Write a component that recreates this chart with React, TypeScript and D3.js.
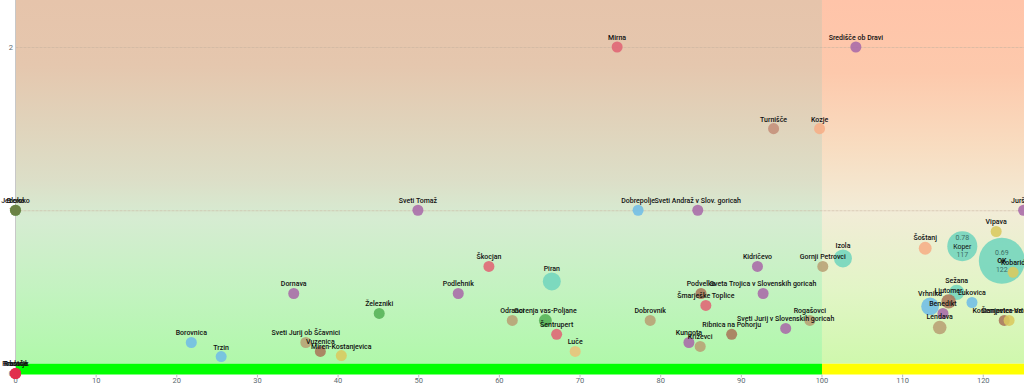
import React, { useEffect, useRef } from 'react';
import * as d3 from 'd3';

// municipalities
const names = [
  'Mirna', 'Središče ob Dravi', 'Turnišče', 'Kozje', 'Jezersko', 'Bloke', 'Sveti Tomaž', 'Dobrepolje',
  'Sveti Andraž v Slov. goricah', 'Juršinci', 'Škocjan', 'Piran', 'Podlehnik', 'Dornava', 'Železniki',
  'Odranci', 'Gorenja vas-Poljane', 'Šentrupert', 'Luče', 'Dobrovnik', 'Borovnica', 'Trzin',
  'Sveti Jurij ob Ščavnici', 'Vuzenica', 'Miren-Kostanjevica', 'Kidričevo', 'Gornji Petrovci', 'Izola',
  'Podvelka', 'Sveta Trojica v Slovenskih goricah', 'Šmarješke Toplice', 'Rogašovci',
  'Sveti Jurij v Slovenskih goricah', 'Ribnica na Pohorju', 'Kungota', 'Križevci', 'Šoštanj', 'Vipava',
  'Koper', 'OK', 'Kobarid', 'Sežana', 'Ljutomer', 'Lukovica', 'Vrhnika', 'Benedikt', 'Lendava',
  'Kostanjevica na Krki', 'Šempeter-Vrtojba', 'Hrastnik', 'Trbovlje', 'Radeče',
];
const xValues = [
  74.6, 104.2, 94.0, 99.7, 0, 0, 49.9, 77.2,
  84.6, 125, 58.7, 66.5, 54.9, 34.5, 45.1,
  61.6, 65.7, 67.1, 69.4, 78.7, 21.8, 25.5,
  36.0, 37.8, 40.4, 92.0, 100.1, 102.6,
  85.0, 92.7, 85.6, 98.5,
  95.5, 88.8, 83.5, 84.9, 112.8, 121.6,
  117.4, 122.3, 123.7, 116.7, 115.7, 118.6, 113.4, 115.0, 114.6,
  122.6, 123.2, 0, 0, 0,
];
const yValues = [
  2.0, 2.0, 1.5, 1.5, 1.0, 1.0, 1.0, 1.0,
  1.0, 1.0, 0.656, 0.564, 0.49, 0.49, 0.368,
  0.325, 0.325, 0.24, 0.135, 0.325, 0.19, 0.104,
  0.19, 0.135, 0.11, 0.656, 0.656, 0.705,
  0.49, 0.49, 0.417, 0.325,
  0.276, 0.24, 0.19, 0.166, 0.767, 0.87,
  0.78, 0.69, 0.62, 0.497, 0.442, 0.435, 0.411, 0.368, 0.282,
  0.325, 0.325, 0, 0, 0,
];
const sizes = [
  6.6, 6.6, 6.6, 6.6, 6.6, 6.6, 6.6, 6.6,
  6.6, 6.6, 6.6, 17.6, 6.6, 6.6, 6.6,
  6.6, 9, 6.6, 6.6, 6.6, 6.6, 6.6,
  6.6, 6.6, 6.6, 6.6, 6.6, 17.6,
  6.6, 6.6, 6.6, 6.6,
  6.6, 6.6, 6.6, 6.6, 9, 6.6,
  49, 115, 6.6, 13, 11, 6.6, 17, 6.6, 10,
  6.6, 6.6, 6.6, 6.6, 6.6,
];
const regions = [
  'JV', 'Podravska', 'Pomurska2', 'Savinjska', 'Gorenjska', 'Notranjska', 'Podravska', 'Osrednjeslovenska',
  'Podravska', 'Podravska', 'JV', 'Obalno-kraška', 'Podravska', 'Podravska', 'Gorenjska',
  'Pomurska', 'Gorenjska', 'JV', 'Savinjska2', 'Pomurska', 'Osrednjeslovenska', 'Osrednjeslovenska',
  'Pomurska', 'Koroška', 'Goriška', 'Podravska', 'Pomurska', 'Obalno-kraška',
  'Koroška', 'Podravska', 'JV', 'Pomurska',
  'Podravska', 'Koroška', 'Podravska', 'Pomurska', 'Savinjska', 'Goriška',
  'Obalno-kraška', 'Obalno-kraška', 'Goriška', 'Obalno-kraška', 'Koroška', 'Osrednjeslovenska', 'Osrednjeslovenska', 'Podravska', 'Pomurska',
  'Koroška', 'Goriška', 'Zasavska', 'Zasavska', 'Zasavska',
];
const regionNames = [
  'JV', 'Podravska', 'Pomurska', 'Pomurska2', 'Savinjska', 'Savinjska2', 'Gorenjska', 'Notranjska',
  'Osrednjeslovenska', 'Obalno-kraška', 'Koroška', 'Goriška', 'Zasavska',
];
const regionColors = [
  '#e06474', '#a96aa9', '#b8a074', '#c4907a', '#f6ae86', '#eac17a', '#55b257', '#6b7a40',
  '#71bde6', '#72d5bd', '#a9765a', '#d9c95e', '#e0304e',
];
const xTicks = [0, 10, 20, 30, 40, 50, 60, 70, 80, 90, 100, 110, 120];
const yTicks = [0, 1, 2];

const App = () => {
  const svgRef = useRef<SVGSVGElement>(null);

  useEffect(() => {
    const width = 1024;
    const svg = d3.select(svgRef.current);
    svg.selectAll('*').remove();

    const x = d3.scaleLinear().domain([0, 125]).range([15.5, 1023.6]);
    const y = d3.scaleLinear().domain([0, 2.288]).range([373.5, 0]);
    const r = d3.scaleSqrt().domain([0, 120]).range([0, 23.5]);
    const color = d3.scaleOrdinal<string, string>().domain(regionNames).range(regionColors);

    // background gradients
    const defs = svg.append('defs');
    const gl = defs.append('linearGradient').attr('id', 'bgLeft').attr('x1', 0).attr('y1', 0).attr('x2', 0).attr('y2', 1);
    [[0, '#e6c4ab'], [0.18, '#e5c7ae'], [0.35, '#e0d4bc'], [0.5, '#dcdfc8'], [0.6, '#d6ecd2'], [0.8, '#c3f3c0'], [1, '#b0f8aa']]
      .forEach(([o, c]) => gl.append('stop').attr('offset', o as number).attr('stop-color', c as string));
    const gr = defs.append('linearGradient').attr('id', 'bgRight').attr('x1', 0).attr('y1', 0).attr('x2', 0).attr('y2', 1);
    [[0, '#ffc4a9'], [0.2, '#fdc9ac'], [0.4, '#f8dcc0'], [0.58, '#f2ecd7'], [0.8, '#e2f5c6'], [1, '#cff8ad']]
      .forEach(([o, c]) => gr.append('stop').attr('offset', o as number).attr('stop-color', c as string));

    const band = 0.06;
    svg.append('rect').attr('x', x(0)).attr('y', 0).attr('width', x(100) - x(0)).attr('height', y(band))
      .attr('fill', 'url(#bgLeft)');
    svg.append('rect').attr('x', x(100)).attr('y', 0).attr('width', width - x(100)).attr('height', y(band))
      .attr('fill', 'url(#bgRight)');
    // target band
    svg.append('rect').attr('x', x(0)).attr('y', y(band)).attr('width', x(100) - x(0)).attr('height', y(0) - y(band) + 1)
      .attr('fill', '#00ff00');
    svg.append('rect').attr('x', x(100)).attr('y', y(band)).attr('width', width - x(100)).attr('height', y(0) - y(band) + 1)
      .attr('fill', '#ffff00');

    // grid lines
    svg.append('g').selectAll('line').data(yTicks.filter(d => d > 0)).join('line')
      .attr('x1', x(0)).attr('x2', width).attr('y1', d => y(d) + 0.5).attr('y2', d => y(d) + 0.5)
      .attr('stroke', '#c8b4a0').attr('stroke-opacity', 0.6).attr('stroke-dasharray', '3,1');

    // axes
    svg.append('line').attr('x1', x(0)).attr('x2', x(0)).attr('y1', 0).attr('y2', y(0) + 2)
      .attr('stroke', '#c8c8c8');
    const xAxis = svg.append('g');
    xAxis.selectAll('line').data(xTicks).join('line')
      .attr('x1', d => x(d)).attr('x2', d => x(d)).attr('y1', y(0) + 1).attr('y2', y(0) + 4)
      .attr('stroke', '#bbb');
    xAxis.selectAll('text').data(xTicks).join('text')
      .attr('x', d => x(d)).attr('y', 383).attr('text-anchor', 'middle')
      .style('font-family', 'Roboto, sans-serif').style('font-size', '7.5px').style('fill', '#5b6a70')
      .text(d => d);
    svg.append('g').selectAll('text').data(yTicks).join('text')
      .attr('x', 13).attr('y', d => y(d) + 2.5).attr('text-anchor', 'end')
      .style('font-family', 'Roboto, sans-serif').style('font-size', '7.5px').style('fill', '#5b6a70')
      .text(d => d);

    const data = names.map((name, i) => ({
      name, x: xValues[i], y: yValues[i], size: sizes[i], region: regions[i],
    }));

    // bubbles
    svg.append('g').selectAll('circle').data(data).join('circle')
      .attr('cx', d => x(d.x)).attr('cy', d => y(d.y)).attr('r', d => Math.max(5.5, r(d.size)))
      .attr('fill', d => color(d.region)).attr('fill-opacity', 0.88);

    // labels
    const labels = svg.append('g').style('font-family', 'Roboto, sans-serif').style('font-size', '7px');
    data.forEach(d => {
      const rad = Math.max(5.5, r(d.size));
      if (rad > 12) {
        labels.append('text').attr('x', x(d.x)).attr('y', y(d.y) - 6).attr('text-anchor', 'middle')
          .style('fill', '#3c6e66').text(d.y.toFixed(2));
        labels.append('text').attr('x', x(d.x)).attr('y', y(d.y) + 2.5).attr('text-anchor', 'middle')
          .style('fill', '#111').style('font-weight', d.name === 'OK' ? 'bold' : 'normal').text(d.name);
        labels.append('text').attr('x', x(d.x)).attr('y', y(d.y) + 11).attr('text-anchor', 'middle')
          .style('fill', '#3c6e66').text(Math.round(d.x));
      } else {
        labels.append('text').attr('x', x(d.x)).attr('y', y(d.y) - rad - 1.5).attr('text-anchor', 'middle')
          .style('fill', '#111').style('font-weight', 500).text(d.name);
      }
    });
  }, []);

  return (
    <svg ref={svgRef} width={1024} height={386} style={{ position: 'absolute', left: 0, top: 0 }}></svg>
  );
};

export default App;
